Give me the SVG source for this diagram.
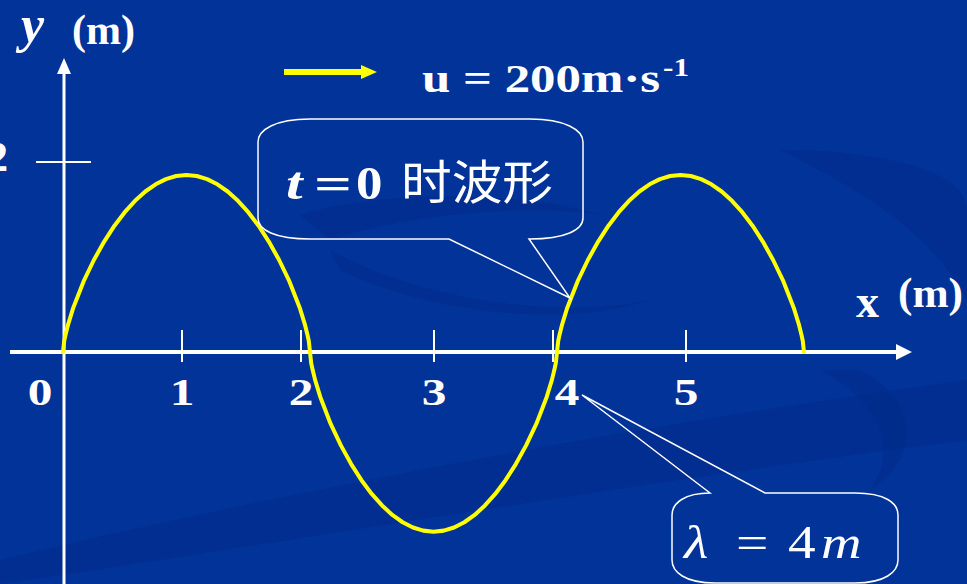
<svg xmlns="http://www.w3.org/2000/svg" width="967" height="584" viewBox="0 0 967 584">
<style>
.bg{fill:#023399}
.sw{fill:#002a88;opacity:0.5}
.axis{stroke:#fff;fill:none}
.tick{stroke:#fff;stroke-width:2}
.lbl{font-family:"Liberation Serif","Times New Roman",serif;font-weight:bold;fill:#fff}
.num{font-family:"Liberation Serif","Times New Roman",serif;font-weight:bold;fill:#fff;font-size:38px;text-anchor:middle}
.wave{fill:none;stroke:#ffff00;stroke-width:4;stroke-linecap:round;stroke-linejoin:round}
.callout{fill:none;stroke:#fff;stroke-width:1.5}
.math{font-family:"Liberation Serif","Times New Roman",serif;fill:#fff;font-size:46px}
.cjk{font-family:"Noto Sans CJK SC","Noto Sans CJK TC",sans-serif;fill:#fff}
</style>
<defs>
<path id="arch" class="wave" d="M0,0 L1.2,-11 L2.57,-17.3 L5.15,-27.7 L10.29,-44.3 L20.58,-70.6 L30.88,-92 L41.17,-110.4 L51.46,-126.3 L61.75,-139.8 L72.04,-151.2 L82.33,-160.5 L92.63,-167.7 L102.92,-172.9 L113.21,-176 L123.5,-177 L133.79,-176 L144.08,-172.9 L154.37,-167.7 L164.67,-160.5 L174.96,-151.2 L185.25,-139.8 L195.54,-126.3 L205.83,-110.4 L216.12,-92 L226.42,-70.6 L236.71,-44.3 L241.85,-27.7 L244.43,-17.3 L245.8,-11 L247,0"/>
</defs>
<rect class="bg" x="0" y="0" width="967" height="584"/>
<g id="background">
<path class="sw" d="M0,560 C250,500 600,430 967,380 L967,440 C650,480 300,540 0,584 Z"/>
<path class="sw" d="M300,215 C380,190 520,190 600,215 C540,205 420,210 330,240 Z"/>
<path class="sw" d="M330,250 C420,300 560,320 650,300 C560,330 420,310 340,270 Z"/>
<path class="sw" d="M780,150 C880,150 967,170 967,210 L967,300 C930,230 860,190 780,150 Z"/>
<path class="sw" d="M820,370 C880,400 900,450 870,490 C920,460 920,400 860,370 Z"/>
</g>
<g id="axes">
<line class="axis" x1="64" y1="584" x2="64" y2="72" stroke-width="3"/>
<polygon points="64,58 57,74 71,74" fill="#fff"/>
<line class="axis" x1="10" y1="352" x2="898" y2="352" stroke-width="4"/>
<polygon points="912,352 896,344 896,360" fill="#fff"/>
<line class="tick" x1="36" y1="162" x2="91" y2="162"/>
<line class="tick" x1="182" y1="330" x2="182" y2="362"/>
<line class="tick" x1="301" y1="330" x2="301" y2="362"/>
<line class="tick" x1="434" y1="330" x2="434" y2="362"/>
<line class="tick" x1="553" y1="330" x2="553" y2="362"/>
<line class="tick" x1="686" y1="330" x2="686" y2="362"/>
</g>
<g id="axis-labels">
<text class="lbl" x="21" y="42" font-size="52" font-style="italic">y</text>
<text class="lbl" x="72" y="44" font-size="42" textLength="63" lengthAdjust="spacingAndGlyphs">(m)</text>
<text class="lbl" x="856" y="317" font-size="46">x</text>
<text class="lbl" x="898" y="307" font-size="42" textLength="65" lengthAdjust="spacingAndGlyphs">(m)</text>
<text class="lbl" x="-13" y="171" font-size="42">2</text>
<text class="num" transform="translate(40,405) scale(1.3,1)">0</text>
<text class="num" transform="translate(182,405) scale(1.3,1)">1</text>
<text class="num" transform="translate(301,405) scale(1.3,1)">2</text>
<text class="num" transform="translate(434,405) scale(1.3,1)">3</text>
<text class="num" transform="translate(567,405) scale(1.3,1)">4</text>
<text class="num" transform="translate(686,405) scale(1.3,1)">5</text>
</g>
<g id="wave">
<use href="#arch" x="63" y="352"/>
<use href="#arch" transform="translate(310,352) scale(1,-1.015)"/>
<use href="#arch" x="557" y="352"/>
</g>
<g id="velocity">
<line x1="284" y1="72" x2="364" y2="72" stroke="#ffff00" stroke-width="6"/>
<polygon points="361,65 377,72 361,79" fill="#ffff00"/>
<text class="lbl" x="422" y="92" font-size="41" textLength="238" lengthAdjust="spacingAndGlyphs">u = 200m·s</text>
<text class="lbl" x="663" y="76" font-size="26" textLength="26" lengthAdjust="spacingAndGlyphs">-1</text>
</g>
<g id="callout-t0">
<path class="callout" d="M310,119 L530,119 C565,119 583,130 583,142 L583,218 C583,230 565,239 530,239 L529,239 L570,298 L449,239 L310,239 C275,239 258,230 258,218 L258,142 C258,130 275,119 310,119 Z"/>
<text class="lbl" font-size="46" font-style="italic" transform="translate(286,199) scale(1.3,1)">t</text>
<text class="lbl" font-size="46" transform="translate(314,199) scale(1.45,1)">=</text>
<text class="lbl" font-size="46" transform="translate(356,199) scale(1.15,1)">0</text>
<text class="cjk" x="401" y="199" font-size="47" textLength="152" lengthAdjust="spacingAndGlyphs">时波形</text>
</g>
<g id="callout-lambda">
<path class="callout" d="M710,493 L582,395 L765,493 L855,493 C885,493 898,503 898,515 L898,560 C898,572 885,583 855,583 L715,583 C685,583 672,572 672,560 L672,515 C672,503 685,493 710,493 Z"/>
<text class="math" font-style="italic" transform="translate(684,558) scale(1.22,1)">λ</text>
<text class="math" transform="translate(736,558) scale(1.25,1)">=</text>
<text class="math" transform="translate(788,558) scale(1.2,1)">4</text>
<text class="math" font-style="italic" transform="translate(821,558) scale(1.22,1)">m</text>
</g>
</svg>
